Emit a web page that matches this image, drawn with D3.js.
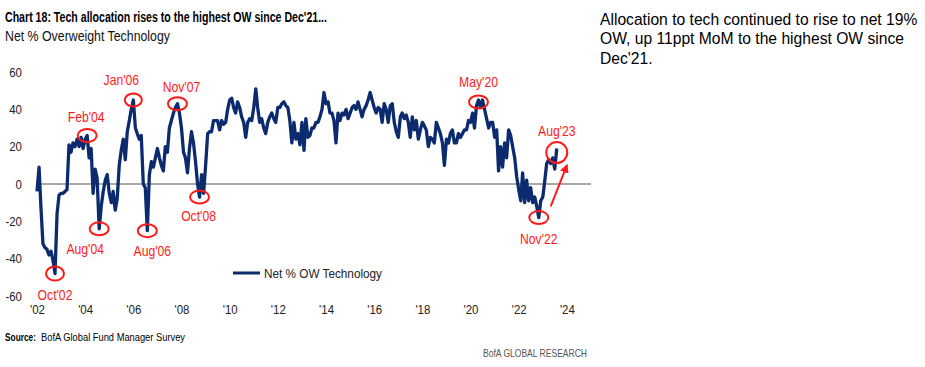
<!DOCTYPE html>
<html>
<head>
<meta charset="utf-8">
<script src="https://cdn.jsdelivr.net/npm/d3@7"></script>
<style>
  body { margin: 0; background: #fff; }
  svg { display: block; font-family: "Liberation Sans", Arial, sans-serif; }
</style>
</head>
<body>
<svg id="canvas"></svg>
<script>
// monthly series, first value = Jan 2002
let startYear = 2002
let netOW = [
  -4, 9, -12, -32, -34, -35, -38, -36, -41, -48, -16, -6,   // 2002
  -5, -5, -4, -3, 21, 17, 22, 20, 24, 20, 25, 19,           // 2003
  24, 26, 14, 19, -5, 8, 3, -24, -12, -4, 2, 5,             // 2004
  -5, -10, -4, -14, -8, 10, 18, 24, 13, 28, 34, 40,         // 2005
  45, 30, 27, 24, 26, 0, -2, -25, 5, 12, 9, 14,             // 2006
  19, 14, 10, 7, 20, 17, 30, 34, 38, 41, 43, 38,            // 2007
  30, 17, 14, 6, 19, 28, 22, 12, 0, -7, 5, -5,              // 2008
  10, 27, 28, 28, 34, 34, 34, 29, 34, 32, 33, 40,           // 2009
  45, 46, 41, 38, 44, 41, 36, 33, 25, 33, 35, 34,           // 2010
  41, 51, 41, 33, 35, 30, 27, 33, 36, 38, 35, 33,           // 2011
  41, 41, 43, 44, 42, 41, 34, 22, 33, 24, 27, 21,           // 2012
  33, 18, 35, 25, 26, 30, 30, 33, 33, 36, 40, 49,           // 2013
  43, 44, 38, 38, 34, 22, 38, 34, 38, 37, 40, 35,           // 2014
  38, 41, 42, 40, 44, 40, 36, 40, 42, 45, 49, 45,           // 2015
  41, 38, 41, 40, 33, 43, 40, 33, 42, 43, 33, 28,           // 2016
  25, 36, 38, 35, 37, 33, 25, 36, 29, 34, 24, 29,           // 2017
  33, 31, 29, 20, 25, 24, 22, 33, 30, 27, 22, 10,           // 2018
  24, 22, 27, 29, 22, 22, 27, 25, 27, 29, 29, 34,           // 2019
  33, 38, 30, 42, 45, 41, 45, 40, 35, 30, 33, 33,           // 2020
  25, 29, 7, 20, 9, 22, 14, 29, 26, 20, 14, 4,              // 2021
  -3, -9, 6, -10, 2, -9, -2, -10, -7, -12, -18, -9,         // 2022
  -7, 2, 11, 13, 11, 14, 8, 19                              // 2023
]

let yTicks = [60, 40, 20, 0, -20, -40, -60]
let xTickYears = [2002, 2004, 2006, 2008, 2010, 2012, 2014, 2016, 2018, 2020, 2022, 2024]

// annotated months (index into netOW) and their labels
let callouts = [
  {label: "Oct'02", month: 9},
  {label: "Feb'04", month: 25},
  {label: "Aug'04", month: 31},
  {label: "Jan'06", month: 48},
  {label: "Aug'06", month: 55},
  {label: "Nov'07", month: 70},
  {label: "Oct'08", month: 81},
  {label: "May'20", month: 220},
  {label: "Nov'22", month: 250},
  {label: "Aug'23", month: 259}
]
// arrow from the Nov'22 trough up toward Aug'23 (date, value)
let arrowFrom = [new Date(2023, 4, 1), -12]
let arrowTo = [new Date(2024, 0, 1), 10]

let titleText = "Chart 18: Tech allocation rises to the highest OW since Dec'21..."
let subtitleText = "Net % Overweight Technology"
let noteLines = [
  "Allocation to tech continued to rise to net 19%",
  "OW, up 11ppt MoM to the highest OW since",
  "Dec'21."
]
let legendText = "Net % OW Technology"

let w = 925
let h = 367
let navy = '#0b2b6e'
let red = '#ff1a1a'

let canvas = d3.select('#canvas')
  .attr('width', w)
  .attr('height', h)

// no condensed face installed, so squeeze the glyphs horizontally
let squeeze = (sel, k) => {
  sel.each(function () {
    let len = this.getComputedTextLength()
    d3.select(this)
      .attr('textLength', len * k)
      .attr('lengthAdjust', 'spacingAndGlyphs')
  })
}

let dataset = netOW.map((v, i) => ({date: new Date(startYear, i, 1), value: v}))

let xScale = d3.scaleTime()
  .domain([new Date(2002, 0, 1), new Date(2025, 0, 1)])
  .range([37, 591])

let yScale = d3.scaleLinear()
  .domain([-60, 60])
  .range([296, 72])

// titles
canvas.append('text')
  .attr('x', 5).attr('y', 22)
  .attr('font-size', 14.5).attr('font-weight', 'bold')
  .attr('fill', '#000')
  .attr('textLength', 322).attr('lengthAdjust', 'spacingAndGlyphs')
  .text(titleText)

canvas.append('text')
  .attr('x', 5).attr('y', 41)
  .attr('font-size', 14)
  .attr('fill', '#111')
  .attr('textLength', 165).attr('lengthAdjust', 'spacingAndGlyphs')
  .text(subtitleText)

let notes = canvas.selectAll('.note')
  .data(noteLines)
  .enter()
  .append('text')
  .attr('class', 'note')
  .attr('x', 600)
  .attr('y', (d, i) => 25 + i * 19.3)
  .attr('font-size', 15.8)
  .attr('fill', '#000')
  .text(d => d)
squeeze(notes, 0.99)

// zero line
canvas.append('line')
  .attr('x1', xScale.range()[0]).attr('x2', xScale.range()[1])
  .attr('y1', yScale(0)).attr('y2', yScale(0))
  .attr('stroke', '#555').attr('stroke-width', 1.2)

// axes
let yAxis = d3.axisLeft(yScale)
  .tickValues(yTicks)
  .tickSize(0)
  .tickPadding(0)
  .tickFormat(d => String(d))
let yG = canvas.append('g')
  .attr('transform', 'translate(22, 0)')
  .call(yAxis)
yG.select('.domain').remove()
yG.selectAll('text').attr('font-size', 13.5).attr('fill', '#222')
  .style('font-family', '"Liberation Sans", sans-serif')
squeeze(yG.selectAll('text'), 0.85)

let xAxis = d3.axisBottom(xScale)
  .tickValues(xTickYears.map(yr => new Date(yr, 0, 1)))
  .tickSize(0)
  .tickPadding(0)
  .tickFormat(d => "'" + String(d.getFullYear()).slice(2))
let xG = canvas.append('g')
  .attr('transform', 'translate(0, 304)')
  .call(xAxis)
xG.select('.domain').remove()
xG.selectAll('text').attr('font-size', 13.5).attr('fill', '#222')
  .style('font-family', '"Liberation Sans", sans-serif')
squeeze(xG.selectAll('text'), 0.85)

// series line
let line = d3.line()
  .x(d => xScale(d.date))
  .y(d => yScale(d.value))

canvas.append('path')
  .datum(dataset)
  .attr('d', line)
  .attr('fill', 'none')
  .attr('stroke', navy)
  .attr('stroke-width', 3.3)
  .attr('stroke-linejoin', 'round')

// callouts: label offsets relative to the circled point
let calloutLayout = {
  "Oct'02": {dx: 0, dy: 21, rx: 9, ry: 7},
  "Feb'04": {dx: -1, dy: -19, rx: 9.5, ry: 6.5},
  "Aug'04": {dx: -14, dy: 20, rx: 9.5, ry: 6.5},
  "Jan'06": {dx: -12, dy: -20, rx: 8.5, ry: 6.5},
  "Aug'06": {dx: 5, dy: 20, rx: 9.5, ry: 6.5},
  "Nov'07": {dx: 4, dy: -17, rx: 9.5, ry: 6.5},
  "Oct'08": {dx: -1, dy: 19, rx: 9.5, ry: 6.5},
  "May'20": {dx: 0, dy: -20, rx: 9.5, ry: 6.5, cy: 2},
  "Nov'22": {dx: 0, dy: 21, rx: 9.5, ry: 6.5},
  "Aug'23": {dx: 0, dy: -22, rx: 10.5, ry: 10.5, cy: 4}
}

let calloutG = canvas.selectAll('.callout')
  .data(callouts)
  .enter()
  .append('g')
  .attr('class', 'callout')
  .attr('transform', d => {
    let p = dataset[d.month]
    let lay = calloutLayout[d.label]
    return 'translate(' + xScale(p.date) + ',' + (yScale(p.value) + (lay.cy || 0)) + ')'
  })

calloutG.append('ellipse')
  .attr('rx', d => calloutLayout[d.label].rx)
  .attr('ry', d => calloutLayout[d.label].ry)
  .attr('fill', 'none')
  .attr('stroke', red)
  .attr('stroke-width', 2)

let calloutText = calloutG.append('text')
  .attr('x', d => calloutLayout[d.label].dx)
  .attr('y', d => calloutLayout[d.label].dy)
  .attr('dy', '0.35em')
  .attr('text-anchor', 'middle')
  .attr('font-size', 14.5)
  .attr('fill', red)
  .text(d => d.label)
squeeze(calloutText, 0.84)

// arrow
let defs = canvas.append('defs')
defs.append('marker')
  .attr('id', 'arrowhead')
  .attr('viewBox', '0 0 10 10')
  .attr('refX', 8).attr('refY', 5)
  .attr('markerWidth', 4.5).attr('markerHeight', 4.5)
  .attr('orient', 'auto')
  .append('path')
  .attr('d', 'M0,0 L10,5 L0,10 z')
  .attr('fill', red)

canvas.append('line')
  .attr('x1', xScale(arrowFrom[0])).attr('y1', yScale(arrowFrom[1]))
  .attr('x2', xScale(arrowTo[0])).attr('y2', yScale(arrowTo[1]))
  .attr('stroke', red).attr('stroke-width', 2)
  .attr('marker-end', 'url(#arrowhead)')

// legend
canvas.append('line')
  .attr('x1', 233).attr('x2', 260)
  .attr('y1', 273).attr('y2', 273)
  .attr('stroke', navy).attr('stroke-width', 3)
canvas.append('text')
  .attr('x', 264).attr('y', 273)
  .attr('dy', '0.35em')
  .attr('font-size', 13.5)
  .attr('fill', '#222')
  .attr('textLength', 118).attr('lengthAdjust', 'spacingAndGlyphs')
  .text(legendText)

// source + footer
canvas.append('text')
  .attr('x', 5).attr('y', 341)
  .attr('font-size', 10.5).attr('font-weight', 'bold')
  .attr('fill', '#000')
  .attr('textLength', 31).attr('lengthAdjust', 'spacingAndGlyphs')
  .text('Source:')
canvas.append('text')
  .attr('x', 41).attr('y', 341)
  .attr('font-size', 10.5)
  .attr('fill', '#000')
  .attr('textLength', 144).attr('lengthAdjust', 'spacingAndGlyphs')
  .text('BofA Global Fund Manager Survey')

canvas.append('text')
  .attr('x', 483).attr('y', 357)
  .attr('font-size', 10.5)
  .attr('fill', '#555')
  .attr('textLength', 104).attr('lengthAdjust', 'spacingAndGlyphs')
  .text('BofA GLOBAL RESEARCH')
</script>
</body>
</html>
